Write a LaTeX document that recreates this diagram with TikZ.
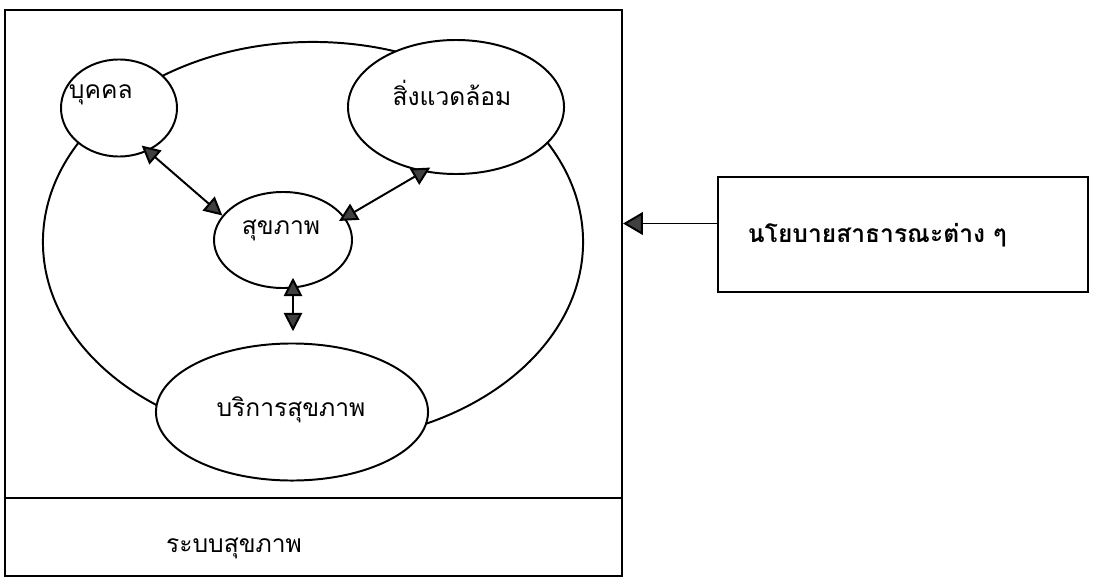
\documentclass[tikz,border=0pt]{standalone}
\usepackage{fontspec}
\newfontfamily\thaifont[Script=Thai]{Loma}
\usetikzlibrary{shapes.geometric,arrows.meta}

\begin{document}
\begin{tikzpicture}[x=0.025cm,y=-0.025cm,line width=1.4pt,
    blob/.style={ellipse,draw,fill=white,inner sep=0pt},
    word/.style={font=\thaifont\fontsize{17.5}{21}\selectfont,inner sep=0pt},
    twoway/.style={{Triangle[length=13pt,width=13pt,fill=black!75]}-{Triangle[length=13pt,width=13pt,fill=black!75]}}]
            \useasboundingbox (0,0) rectangle (1096,585);
            \node[draw,minimum width=15.425cm,minimum height=14.15cm,inner sep=0pt] (system) at (313.5,293) {};
            \draw (system.west |- 0,498) -- (system.east |- 0,498);
            \node[word] (systemtext) at (234,548) {ระบบสุขภาพ};
            \node[ellipse,draw,minimum width=13.5cm,minimum height=10cm,inner sep=0pt] (loop) at (313,242) {};
            \node[blob,minimum width=2.9cm,minimum height=2.425cm] (person) at (119,108) {};
            \node[blob,minimum width=5.4cm,minimum height=3.35cm] (env) at (456,107) {};
            \node[blob,minimum width=3.45cm,minimum height=2.4cm] (health) at (283,240) {};
            \node[blob,minimum width=6.8cm,minimum height=3.425cm] (service) at (292,412) {};
            \node[word,anchor=west] (persontext) at (68,95) {บุคคล};
            \node[word] (envtext) at (452,93) {สิ่งแวดล้อม};
            \node[word] (healthtext) at (281,230) {สุขภาพ};
            \node[word] (servicetext) at (291,410) {บริการสุขภาพ};
            \draw[twoway,shorten <=-6pt] (person.-56) -- (health.158);
            \draw[twoway,shorten <=-6pt,shorten >=-5pt] (env.-117) -- (health.20);
            \draw[twoway,shorten <=-8pt,shorten >=8pt] ([xshift=0.25cm]health.south) -- ([xshift=0.25cm]health.south |- service.north);
            \node[draw,minimum width=9.25cm,minimum height=2.875cm,inner sep=0pt] (policy) at (903,234.5) {};
            \node[word,font=\thaifont\bfseries\fontsize{17.5}{21}\selectfont,anchor=west] (policytext) at (747,235) {นโยบายสาธารณะต่าง ๆ};
            \draw[-{Triangle[length=14pt,width=16pt,fill=black!75]}] ([yshift=0.275cm]policy.west) -- ([yshift=0.275cm]policy.west -| system.east);
        \end{tikzpicture}
\end{document}
